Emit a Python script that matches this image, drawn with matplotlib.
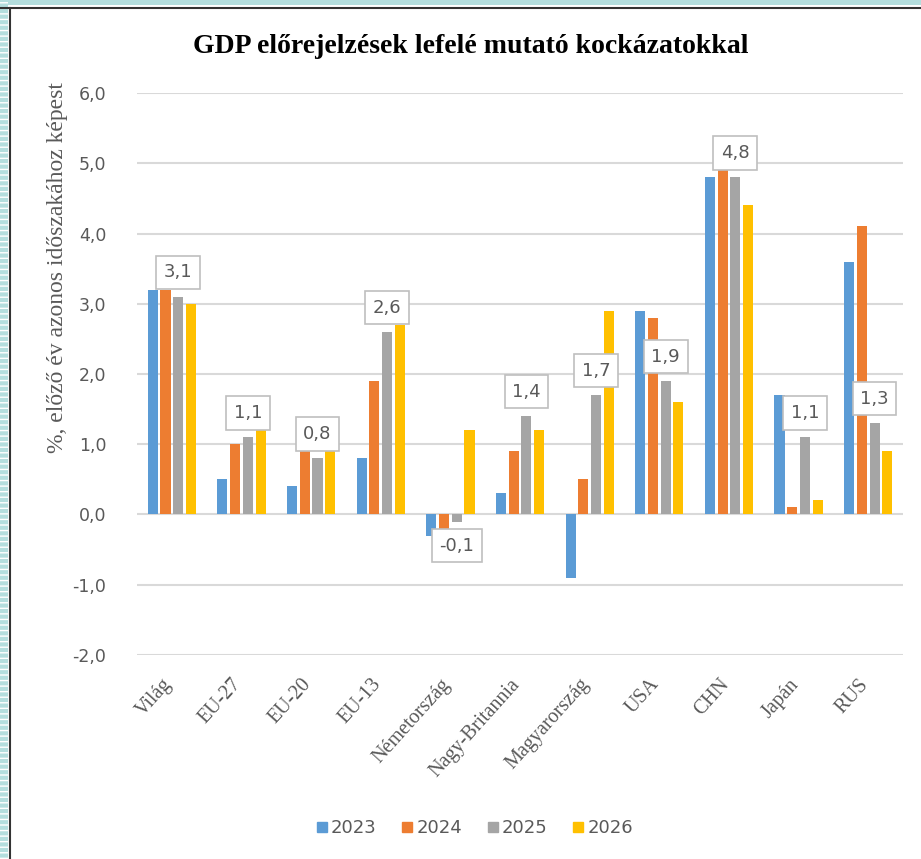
import numpy as np
import matplotlib.pyplot as plt
from matplotlib.patches import Rectangle
from matplotlib.lines import Line2D

# Adatok
orszagok = ['Világ', 'EU-27', 'EU-20', 'EU-13', 'Németország', 'Nagy-Britannia',
            'Magyarország', 'USA', 'CHN', 'Japán', 'RUS']
evek = ['2023', '2024', '2025', '2026']
gdp_2023 = [3.2, 0.5, 0.4, 0.8, -0.3, 0.3, -0.9, 2.9, 4.8, 1.7, 3.6]
gdp_2024 = [3.2, 1.0, 0.9, 1.9, -0.2, 0.9, 0.5, 2.8, 4.9, 0.1, 4.1]
gdp_2025 = [3.1, 1.1, 0.8, 2.6, -0.1, 1.4, 1.7, 1.9, 4.8, 1.1, 1.3]
gdp_2026 = [3.0, 1.2, 0.9, 2.7, 1.2, 1.2, 2.9, 1.6, 4.4, 0.2, 0.9]
szinek = ['#5B9BD5', '#ED7D31', '#A5A5A5', '#FFC000']

sorozatok = [gdp_2023, gdp_2024, gdp_2025, gdp_2026]
szurke = '#595959'

fig = plt.figure(figsize=(9.21, 8.59), dpi=100)
ax = fig.add_axes([0.1488, 0.2375, 0.8317, 0.6542])

x = np.arange(len(orszagok))
lepes = 0.183
szel = 0.145
for i, (ertekek, szin) in enumerate(zip(sorozatok, szinek)):
    ax.bar(x + (i - 1.5) * lepes, ertekek, width=szel, color=szin, zorder=3, label=evek[i])

# címkék a 2025-ös oszlopokon
for xi, v in zip(x + 0.5 * lepes, gdp_2025):
    ax.annotate(f'{v:.1f}'.replace('.', ','), (xi, v),
                xytext=(0, 11 if v >= 0 else -11), textcoords='offset points',
                ha='center', va='bottom' if v >= 0 else 'top',
                fontsize=13, color=szurke, family='DejaVu Sans', zorder=5,
                bbox=dict(boxstyle='square,pad=0.42', fc='white', ec='#BFBFBF', lw=1.2))

ax.set_xlim(-0.5, len(orszagok) - 0.5)
ax.set_ylim(-2, 6)
ax.set_yticks(np.arange(-2, 7, 1))
ax.set_yticklabels([f'{t:.1f}'.replace('.', ',') for t in np.arange(-2, 7, 1)],
                   fontsize=12.5, color=szurke, family='DejaVu Sans')
ax.set_xticks(x)
ax.set_xticklabels([])
# kategória feliratok kézzel, hogy az eltolás pontos legyen
for xi, nev in zip(x, orszagok):
    ax.annotate(nev, (xi, 0), xycoords=('data', 'axes fraction'),
                xytext=(-10, -20), textcoords='offset pixels',
                rotation=48, ha='right', va='top', rotation_mode='anchor',
                fontsize=14.5, color=szurke, family='Liberation Serif')
ax.tick_params(axis='both', length=0)
ax.tick_params(axis='y', pad=22)
ax.grid(axis='y', color='#D9D9D9', lw=1.5, zorder=0)
for s in ax.spines.values():
    s.set_visible(False)

fig.text(0.511, 0.946, 'GDP előrejelzések lefelé mutató kockázatokkal',
         ha='center', va='center', fontsize=20, fontweight='bold',
         family='Liberation Serif', color='black')
fig.text(57 / 921, 1 - 268 / 859, '%, előző év azonos időszakához képest',
         rotation=90, ha='center', va='center', fontsize=17, color=szurke,
         family='Liberation Serif')

jelek = [Line2D([], [], marker='s', ls='', color=c, markersize=7) for c in szinek]
fig.legend(jelek, evek, loc='center', bbox_to_anchor=(473 / 921, 1 - 828 / 859),
           ncol=4, frameon=False, labelcolor=szurke,
           handletextpad=0.0, columnspacing=1.2, handlelength=1.0,
           prop={'family': 'DejaVu Sans', 'size': 13})

# keret
fig.patches.append(Rectangle((0, 1 - 5 / 859), 1, 5 / 859, transform=fig.transFigure,
                             fc='#B4DEDE', ec='none', zorder=0))
fig.patches.append(Rectangle((0, 0), 8 / 921, 1, transform=fig.transFigure,
                             fc='#B4DEDE', ec='white', lw=0, hatch='---', zorder=0))
fig.add_artist(Line2D([0, 1], [1 - 8 / 859] * 2, transform=fig.transFigure,
                      color='#333333', lw=1.5))
fig.add_artist(Line2D([9.5 / 921] * 2, [0, 1 - 8 / 859], transform=fig.transFigure,
                      color='#333333', lw=1.5))

fig.savefig('out.png', dpi=100)
